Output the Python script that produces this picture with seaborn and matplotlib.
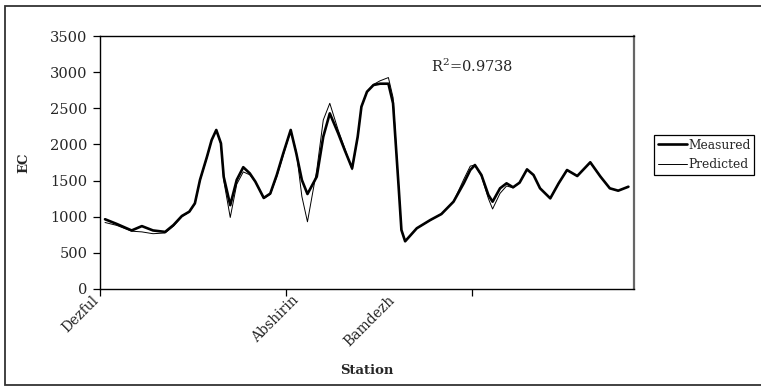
import pandas as pd
import seaborn as sns
import matplotlib.pyplot as plt
import matplotlib.transforms as mtransforms
from matplotlib.patches import Rectangle

# positions along the river (category units, ticks every 20) and EC values
position = [0.54, 1.8, 3.4, 4.5, 5.7, 7.0, 7.9, 8.8, 9.6, 10.2, 10.75, 11.5, 12.0, 12.5,
            13.0, 13.3, 14.0, 14.7, 15.4, 16.1, 16.7, 17.6, 18.3, 19.0, 19.7, 20.5, 21.1,
            21.7, 22.3, 23.3, 24.0, 24.7, 25.6, 26.3, 27.1, 27.7, 28.1, 28.7, 29.4, 30.1,
            31.0, 31.5, 32.1, 32.4, 32.8, 34.05, 35.5, 36.7, 38.0, 39.1, 39.8, 40.3, 41.0,
            41.75, 42.2, 43.0, 43.7, 44.4, 45.1, 45.9, 46.6, 47.3, 48.4, 49.3, 50.2, 51.3,
            52.7, 53.8, 54.8, 55.7, 56.8]
measured = [965, 900, 810, 870, 810, 790, 885, 1010, 1070, 1185, 1510, 1830, 2060, 2200,
            2015, 1550, 1160, 1510, 1685, 1600, 1485, 1260, 1320, 1577, 1877, 2200, 1877,
            1508, 1314, 1554, 2107, 2430, 2154, 1923, 1670, 2107, 2522, 2729, 2822, 2840,
            2840, 2569, 1415, 816, 660, 840, 954, 1037, 1208, 1462, 1646, 1715, 1577,
            1300, 1208, 1393, 1462, 1407, 1471, 1655, 1577, 1393, 1254, 1462, 1646, 1563,
            1753, 1554, 1393, 1360, 1415]
predicted = [920, 880, 800, 790, 765, 775, 870, 1000, 1065, 1180, 1500, 1820, 2060, 2200,
             2000, 1500, 990, 1450, 1620, 1580, 1480, 1250, 1310, 1550, 1850, 2190, 1900,
             1280, 930, 1646, 2338, 2569, 2200, 1950, 1650, 2100, 2520, 2730, 2830, 2880,
             2925, 2650, 1420, 820, 660, 840, 950, 1040, 1210, 1517, 1700, 1715, 1560,
             1250, 1107, 1323, 1425, 1400, 1470, 1655, 1577, 1393, 1254, 1462, 1646, 1563,
             1753, 1554, 1393, 1360, 1415]

station_names = ['Dezful', 'Abshirin', 'Bamdezh']
station_pos = [-0.9, 20.6, 30.9]
r2_text = 'R$^2$=0.9738'

sns.set_style('white')
plt.rcParams['font.family'] = ['DejaVu Serif']
plt.rcParams['mathtext.fontset'] = 'dejavuserif'

df = pd.DataFrame({'position': position, 'Measured': measured, 'Predicted': predicted})

fig = plt.figure(figsize=(7.61, 3.87), dpi=100)
ax = fig.add_axes([100 / 761, 1 - 289 / 387, 534 / 761, 253 / 387])

sns.lineplot(data=df, x='position', y='Measured', ax=ax, color='black', lw=1.9, label='Measured')
sns.lineplot(data=df, x='position', y='Predicted', ax=ax, color='black', lw=0.7, label='Predicted')

ax.set_xlim(0, 57.4)
ax.set_ylim(0, 3500)
ax.set_yticks(range(0, 3501, 500))
ax.set_xticks([0, 20, 40])
ax.set_xticklabels([])
ax.tick_params(axis='both', which='major', direction='out', length=5, width=0.9,
               color='black', labelsize=10.5, pad=4, bottom=True, left=True)

# station names, rotated like the category labels
trans = mtransforms.blended_transform_factory(ax.transData, ax.transAxes)
for name, xpos in zip(station_names, station_pos):
    ax.text(xpos, -0.016, name, transform=trans, rotation=45, rotation_mode='anchor',
            ha='right', va='top', fontsize=10, clip_on=False)

for s in ['left', 'bottom', 'top']:
    ax.spines[s].set_color('black')
    ax.spines[s].set_linewidth(1.0)
ax.spines['right'].set_color('#666666')
ax.spines['right'].set_linewidth(1.6)

ax.set_xlabel('Station', fontsize=9.5, fontweight='bold')
ax.set_ylabel('EC', fontsize=9.5, fontweight='bold')
ax.xaxis.set_label_coords(0.5, -0.295)
ax.yaxis.set_label_coords(-0.13, 0.5)

ax.text(0.62, 0.881, r2_text, transform=ax.transAxes, fontsize=10.5, ha='left', va='center')

ax.get_legend().remove()
leg = fig.legend(loc='upper left', bbox_to_anchor=(654 / 761, 1 - 135 / 387), fontsize=8.8,
                 frameon=True, fancybox=False, edgecolor='black', framealpha=1,
                 handlelength=2.4, handletextpad=0.1, borderpad=0.3, labelspacing=0.55,
                 borderaxespad=0)
leg.get_frame().set_linewidth(0.9)

fig.patches.append(Rectangle((5 / 761, 2 / 387), 757 / 761, 379 / 387, transform=fig.transFigure,
                             fill=False, edgecolor='#333333', linewidth=1.3))

fig.savefig('out.png', dpi=100)
